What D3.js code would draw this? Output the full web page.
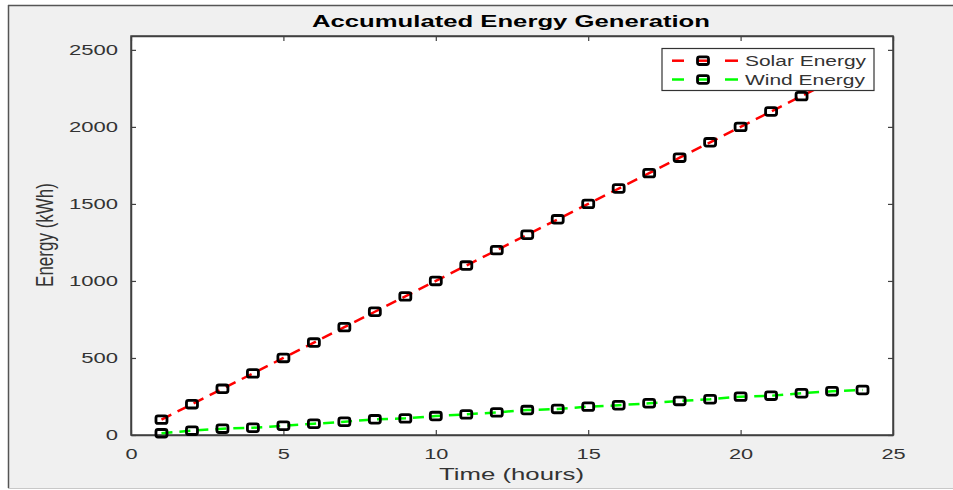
<!DOCTYPE html>
<html>
<head>
<meta charset="utf-8">
<script src="https://cdn.jsdelivr.net/npm/d3@7"></script>
<style>
  html, body { margin: 0; padding: 0; background: #ffffff; }
  svg { display: block; }
  text { font-family: "Liberation Sans", Arial, sans-serif; }
</style>
</head>
<body>
<svg id="chart" width="953" height="490"></svg>
<script>
// ---- data ----
const hours = [1,2,3,4,5,6,7,8,9,10,11,12,13,14,15,16,17,18,19,20,21,22,23,24];
const solarEnergy = [100,200,300,400,500,600,700,800,900,1000,1100,1200,1300,1400,1500,1600,1700,1800,1900,2000,2100,2200,2300,2400];
const windEnergy = [11,28,41,47,60,73,86,102,108,123,134,147,162,169,184,193,206,221,232,249,255,271,284,292];
const xTicks = [0,5,10,15,20,25];
const yTicks = [0,500,1000,1500,2000,2500];
const seriesNames = ["Solar Energy", "Wind Energy"];
const seriesColors = ["#ff0000", "#00ff00"];
const titleText = "Accumulated Energy Generation";
const xLabelText = "Time (hours)";
const yLabelText = "Energy (kWh)";

const svg = d3.select("#chart");
const W = 953, H = 490;
const plot = {left: 131, right: 893, top: 36, bottom: 435};
const axisColor = "#404040";
const textColor = "#333333";

function stretch(sel, factorOrTarget, isTarget) {
  sel.each(function() {
    const n = this.getComputedTextLength();
    const t = isTarget ? factorOrTarget : n * factorOrTarget;
    this.setAttribute("textLength", t);
    this.setAttribute("lengthAdjust", "spacingAndGlyphs");
  });
}

// outer figure frame
svg.append("rect").attr("x", 8).attr("y", 5).attr("width", W).attr("height", 483)
  .attr("fill", "#f0f0f0");
svg.append("line").attr("x1", 8).attr("x2", W).attr("y1", 5.5).attr("y2", 5.5)
  .attr("stroke", "#555").attr("stroke-width", 1.5);
svg.append("line").attr("x1", 8.5).attr("x2", 8.5).attr("y1", 5).attr("y2", 488)
  .attr("stroke", "#555").attr("stroke-width", 1.5);
svg.append("line").attr("x1", 8).attr("x2", W).attr("y1", 488.5).attr("y2", 488.5)
  .attr("stroke", "#c8c8c8").attr("stroke-width", 1);

// scales
const x = d3.scaleLinear().domain([0, 25]).range([plot.left, plot.right]);
const y = d3.scaleLinear().domain([0, 2590]).range([plot.bottom, plot.top]);

// plot background
svg.append("rect").attr("x", plot.left).attr("y", plot.top)
  .attr("width", plot.right - plot.left).attr("height", plot.bottom - plot.top)
  .attr("fill", "#ffffff");

// axes (ticks inward, box)
const tl = 5;
const fmt = d3.format("d");
const gB = svg.append("g").attr("transform", `translate(0,${plot.bottom})`)
  .call(d3.axisBottom(x).tickValues(xTicks).tickFormat(fmt).tickSizeInner(-tl).tickSizeOuter(0).tickPadding(13));
const gT = svg.append("g").attr("transform", `translate(0,${plot.top})`)
  .call(d3.axisTop(x).tickValues(xTicks).tickSizeInner(-tl).tickSizeOuter(0).tickFormat(""));
const gL = svg.append("g").attr("transform", `translate(${plot.left},0)`)
  .call(d3.axisLeft(y).tickValues(yTicks).tickFormat(fmt).tickSizeInner(-tl).tickSizeOuter(0).tickPadding(13));
const gR = svg.append("g").attr("transform", `translate(${plot.right},0)`)
  .call(d3.axisRight(y).tickValues(yTicks).tickSizeInner(-tl).tickSizeOuter(0).tickFormat(""));
[gB, gT, gL, gR].forEach(g => {
  g.select(".domain").attr("stroke", axisColor).attr("stroke-width", 1.5);
  g.selectAll(".tick line").attr("stroke", axisColor).attr("stroke-width", 1.2);
  g.selectAll(".tick text").attr("fill", textColor).attr("font-size", 15)
    .attr("font-family", "Liberation Sans, Arial, sans-serif");
});
gB.selectAll(".tick text").attr("dy", "0.71em");
stretch(gB.selectAll(".tick text"), 1.45);
stretch(gL.selectAll(".tick text"), 1.47);
// draw box edges crisp
svg.append("rect").attr("x", plot.left).attr("y", plot.top)
  .attr("width", plot.right - plot.left).attr("height", plot.bottom - plot.top)
  .attr("fill", "none").attr("stroke", axisColor).attr("stroke-width", 1.5);

// series
const seriesData = [solarEnergy, windEnergy];
const line = d3.line().x(d => x(d[0])).y(d => y(d[1]));
const drawOrder = [1, 0];
drawOrder.forEach(si => {
  const pts = hours.map((h, i) => [h, seriesData[si][i]]);
  svg.append("path").datum(pts)
    .attr("d", line)
    .attr("fill", "none")
    .attr("stroke", seriesColors[si])
    .attr("stroke-width", 2.5)
    .attr("stroke-dasharray", "11,7");
  svg.append("g").selectAll("rect").data(pts).join("rect")
    .attr("x", d => x(d[0]) - 5.5)
    .attr("y", d => y(d[1]) - 3.8)
    .attr("width", 11).attr("height", 7.6)
    .attr("rx", 2).attr("ry", 2)
    .attr("fill", "none")
    .attr("stroke", "#000")
    .attr("stroke-width", 2.8);
});

// legend
const lg = svg.append("g");
lg.append("rect").attr("x", 662).attr("y", 48.5).attr("width", 212).attr("height", 42)
  .attr("fill", "#ffffff").attr("stroke", "#333").attr("stroke-width", 1.2);
const rowsY = [60.7, 79.5];
seriesNames.forEach((name, i) => {
  const ry = rowsY[i];
  [[672, 684], [697, 709], [725, 738]].forEach(seg => {
    lg.append("line").attr("x1", seg[0]).attr("x2", seg[1]).attr("y1", ry).attr("y2", ry)
      .attr("stroke", seriesColors[i]).attr("stroke-width", 2.5);
  });
  lg.append("rect").attr("x", 703 - 5.5).attr("y", ry - 3.8).attr("width", 11).attr("height", 7.6)
    .attr("rx", 2).attr("ry", 2).attr("fill", "none").attr("stroke", "#000").attr("stroke-width", 2.8);
  const t = lg.append("text").attr("x", 745).attr("y", ry + 5).attr("font-size", 14)
    .attr("fill", textColor).text(name);
  stretch(t, i === 0 ? 121 : 120, true);
});

// title
const title = svg.append("text").attr("x", 511).attr("y", 27).attr("text-anchor", "middle")
  .attr("font-size", 17).attr("font-weight", "bold").attr("fill", "#000").text(titleText);
stretch(title, 398, true);

// x label
const xl = svg.append("text").attr("x", 511.5).attr("y", 480).attr("text-anchor", "middle")
  .attr("font-size", 17).attr("fill", textColor).text(xLabelText);
stretch(xl, 145, true);

// y label
svg.append("text").attr("transform", "translate(53,235) scale(1.45,1) rotate(-90)")
  .attr("text-anchor", "middle").attr("font-size", 17).attr("fill", textColor).text(yLabelText);
</script>
</body>
</html>
